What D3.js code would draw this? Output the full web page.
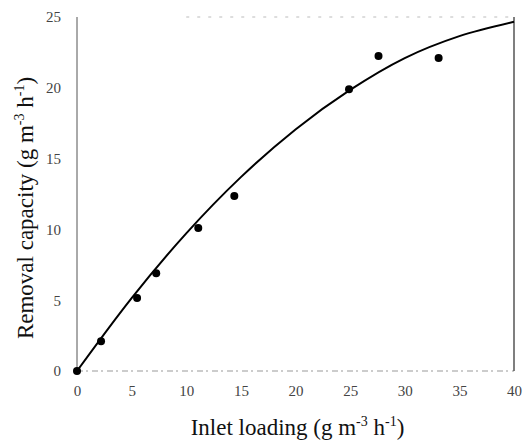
<!DOCTYPE html>
<html>
<head>
<meta charset="utf-8">
<script src="https://cdn.jsdelivr.net/npm/d3@7"></script>
<style>
  body { margin: 0; background: #fff; }
  svg { font-family: "Liberation Serif", "DejaVu Serif", serif; }
  .axis text { fill: #444; font-size: 15px; font-family: "Liberation Serif", serif; }
</style>
</head>
<body>
<svg id="chart"></svg>
<script>
// Measured points
const loading = [0, 2.2, 5.5, 7.25, 11.1, 14.4, 24.9, 27.6, 33.1];
const removal = [0, 2.1, 5.15, 6.9, 10.1, 12.35, 19.9, 22.25, 22.1];

// Fitted curve
const fitX = [0, 5, 10, 15, 20, 25, 30, 35, 40];
const fitY = [0, 5.15, 9.72, 13.69, 17.06, 19.85, 22.1, 23.65, 24.66];

const xTicks = [0, 5, 10, 15, 20, 25, 30, 35, 40];
const yTicks = [0, 5, 10, 15, 20, 25];

const config = {
    width: 525,
    height: 442,
    margin: { top: 17, right: 11, bottom: 71, left: 77 }
};

const svg = d3.select("#chart")
    .attr("width", config.width)
    .attr("height", config.height);

const innerW = config.width - config.margin.left - config.margin.right;
const innerH = config.height - config.margin.top - config.margin.bottom;

const x = d3.scaleLinear().domain([0, 40]).range([0, innerW]);
const y = d3.scaleLinear().domain([0, 25]).range([innerH, 0]);

const chart = svg.append("g")
    .attr("transform", `translate(${config.margin.left},${config.margin.top})`);

// frame: faint dotted top/bottom, solid sides
chart.append("line")
    .attr("x1", 0).attr("x2", innerW).attr("y1", innerH).attr("y2", innerH)
    .attr("stroke", "#999").attr("stroke-width", 1).attr("stroke-dasharray", "6,3,2,4");
chart.append("line")
    .attr("x1", innerW * 0.25).attr("x2", innerW).attr("y1", 0).attr("y2", 0)
    .attr("stroke", "#bbb").attr("stroke-width", 1).attr("stroke-dasharray", "3,8");
chart.append("line")
    .attr("x1", 0).attr("x2", 0).attr("y1", 0).attr("y2", innerH)
    .attr("stroke", "#555").attr("stroke-width", 1);
chart.append("line")
    .attr("x1", innerW).attr("x2", innerW).attr("y1", 0).attr("y2", innerH)
    .attr("stroke", "#555").attr("stroke-width", 1.5);

// axes (labels only)
const xAxis = d3.axisBottom(x).tickValues(xTicks).tickSize(0).tickPadding(14);
const yAxis = d3.axisLeft(y).tickValues(yTicks).tickSize(0).tickPadding(16);

chart.append("g")
    .attr("class", "axis x-axis")
    .attr("transform", `translate(0,${innerH})`)
    .call(xAxis)
    .call(g => g.select(".domain").remove());

chart.append("g")
    .attr("class", "axis y-axis")
    .call(yAxis)
    .call(g => g.select(".domain").remove());

// fit curve
const line = d3.line()
    .x((d, i) => x(fitX[i]))
    .y(d => y(d))
    .curve(d3.curveMonotoneX);

chart.append("path")
    .datum(fitY)
    .attr("d", line)
    .attr("fill", "none")
    .attr("stroke", "#000")
    .attr("stroke-width", 2);

// points
chart.selectAll(".pt")
    .data(loading)
    .join("circle")
    .attr("class", "pt")
    .attr("cx", d => x(d))
    .attr("cy", (d, i) => y(removal[i]))
    .attr("r", 4)
    .attr("fill", "#000");

// axis titles
const xt = svg.append("text")
    .attr("x", config.margin.left + innerW / 2 + 2)
    .attr("y", 435)
    .attr("text-anchor", "middle")
    .attr("font-size", 23)
    .attr("fill", "#111");
xt.append("tspan").text("Inlet loading (g m");
xt.append("tspan").attr("dy", -9).attr("font-size", 14).text("-3");
xt.append("tspan").attr("dy", 9).text(" h");
xt.append("tspan").attr("dy", -9).attr("font-size", 14).text("-1");
xt.append("tspan").attr("dy", 9).text(")");

const yt = svg.append("text")
    .attr("transform", `translate(33,${config.margin.top + innerH / 2 + 14}) rotate(-90)`)
    .attr("text-anchor", "middle")
    .attr("font-size", 23)
    .attr("fill", "#111");
yt.append("tspan").text("Removal capacity (g m");
yt.append("tspan").attr("dy", -9).attr("font-size", 14).text("-3");
yt.append("tspan").attr("dy", 9).text(" h");
yt.append("tspan").attr("dy", -9).attr("font-size", 14).text("-1");
yt.append("tspan").attr("dy", 9).text(")");
</script>
</body>
</html>
